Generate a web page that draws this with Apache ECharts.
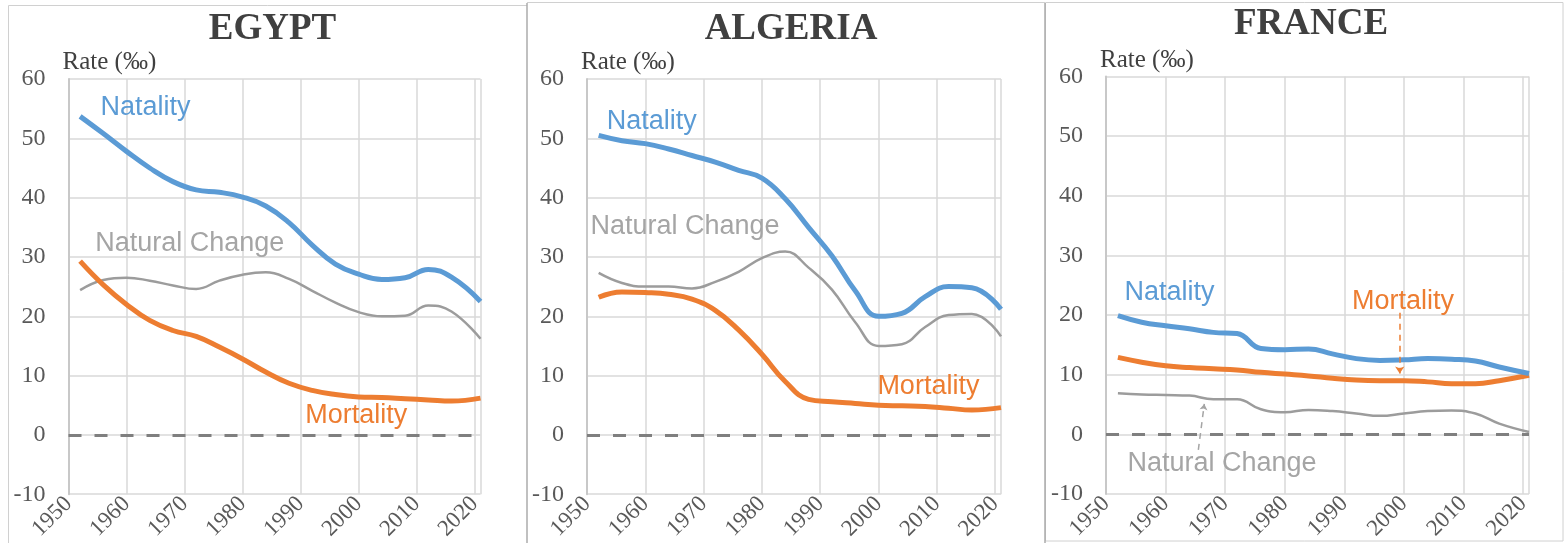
<!DOCTYPE html>
<html>
<head>
<meta charset="utf-8">
<script src="https://cdn.jsdelivr.net/npm/echarts@6/dist/echarts.min.js"></script>
<style>
  html, body { margin: 0; padding: 0; background: #fff; }
  #root { width: 1566px; height: 543px; }
</style>
</head>
<body>
<div id="root"></div>
<script>
// data (rates per thousand)
const years = [1952, 1956, 1960, 1964, 1968, 1972, 1976, 1980, 1984, 1988, 1992, 1996, 2000, 2004, 2008, 2012, 2016, 2021];
const countries = ["EGYPT", "ALGERIA", "FRANCE"];

const egyptNatality  = [53.7, 50.8, 47.8, 45.0, 42.7, 41.3, 40.9, 40.1, 38.6, 35.8, 32.0, 28.8, 27.1, 26.2, 26.5, 27.9, 26.6, 22.5];
const egyptMortality = [29.3, 25.3, 22.0, 19.3, 17.6, 16.6, 14.8, 12.8, 10.6, 8.7, 7.5, 6.8, 6.4, 6.3, 6.1, 5.9, 5.7, 6.2];
const egyptNatural   = [24.4, 26.1, 26.5, 26.0, 25.2, 24.6, 26.0, 27.0, 27.4, 26.3, 24.3, 22.3, 20.7, 20.0, 20.1, 21.8, 20.8, 16.2];

const algeriaNatality  = [50.5, 49.6, 49.1, 48.2, 47.1, 46.0, 44.6, 43.3, 39.8, 35.0, 30.2, 24.3, 20.0, 20.5, 23.3, 25.0, 24.8, 21.2];
const algeriaMortality = [23.2, 24.1, 24.0, 23.7, 22.9, 21.0, 17.7, 13.6, 9.0, 6.0, 5.6, 5.3, 5.0, 4.9, 4.8, 4.5, 4.2, 4.6];
const algeriaNatural   = [27.3, 25.6, 25.0, 25.0, 24.7, 25.8, 27.5, 29.8, 30.9, 28.2, 24.5, 19.0, 15.0, 15.3, 18.2, 20.2, 20.4, 16.6];

const franceNatality  = [19.9, 18.8, 18.2, 17.7, 17.1, 16.9, 14.4, 14.2, 14.3, 13.5, 12.7, 12.4, 12.5, 12.7, 12.6, 12.3, 11.3, 10.2];
const franceMortality = [12.9, 12.1, 11.5, 11.2, 11.0, 10.8, 10.4, 10.1, 9.8, 9.4, 9.1, 9.0, 9.0, 8.8, 8.5, 8.5, 9.0, 9.9];
const franceNatural   = [6.9, 6.7, 6.6, 6.5, 5.9, 5.9, 4.2, 3.7, 4.1, 3.9, 3.5, 3.1, 3.5, 3.9, 4.0, 3.5, 1.8, 0.4];

// where the series names are written, [year, rate] of the label's left middle
const natalityLabelAt = [[1955.5, 55.2], [1953.4, 52.9], [1953.1, 23.8]];
const mortalityLabelAt = [[1990.8, 3.2], [1999.8, 8.2], [1991.3, 22.3]];
const naturalLabelAt = [[1954.6, 32.3], [1950.6, 35.2], [1953.6, -4.9]];

const BLUE = "#5B9BD5", ORANGE = "#ED7D31", GRAY = "#A5A5A5";
const serif = "Liberation Serif";
const sans = "Liberation Sans";

const grids = [
  { left: 68.5, top: 79, width: 412, height: 417.5 },
  { left: 587, top: 79, width: 414, height: 417.5 },
  { left: 1106, top: 76.5, width: 423, height: 417.5 }
];
const titleCenters = [267.5, 786, 1306];
const titleTops = [6, 6, 1];

const allData = [
  [egyptNatality, egyptMortality, egyptNatural],
  [algeriaNatality, algeriaMortality, algeriaNatural],
  [franceNatality, franceMortality, franceNatural]
];

function pairs(vals) {
  return years.map((y, i) => [y, vals[i]]);
}

function nameLabel(text, at, color) {
  return {
    symbol: "circle",
    symbolSize: 0,
    data: [{
      coord: at,
      itemStyle: { color: "transparent" },
      label: {
        show: true, formatter: text, position: "inside", align: "left", verticalAlign: "middle",
        color: color, fontFamily: sans, fontSize: 27
      }
    }],
    silent: true
  };
}

const series = [];
allData.forEach((d, gi) => {
  const natal = {
    type: "line", xAxisIndex: gi, yAxisIndex: gi, data: pairs(d[0]),
    smooth: 0.45, showSymbol: false, z: 4,
    lineStyle: { color: BLUE, width: 5 },
    markPoint: nameLabel("Natality", natalityLabelAt[gi], BLUE),
    markLine: {
      silent: true, symbol: "none", label: { show: false },
      lineStyle: { color: "#7F7F7F", width: 3, type: [13, 13] },
      data: [{ yAxis: 0 }]
    }
  };
  const mort = {
    type: "line", xAxisIndex: gi, yAxisIndex: gi, data: pairs(d[1]),
    smooth: 0.45, showSymbol: false, z: 4,
    lineStyle: { color: ORANGE, width: 5 },
    markPoint: nameLabel("Mortality", mortalityLabelAt[gi], ORANGE)
  };
  const nat = {
    type: "line", xAxisIndex: gi, yAxisIndex: gi, data: pairs(d[2]),
    smooth: 0.45, showSymbol: false, z: 3,
    lineStyle: { color: "#9C9C9C", width: 2.5 },
    markPoint: nameLabel("Natural Change", naturalLabelAt[gi], GRAY)
  };
  if (gi === 2) {
    // dashed pointers from the names to their curves
    mort.markLine = {
      silent: true, symbol: ["none", "arrow"], symbolSize: 7, label: { show: false },
      lineStyle: { color: ORANGE, width: 1.5, type: [6, 5] },
      data: [[{ coord: [1999.3, 20.4] }, { coord: [1999.3, 10.2] }]]
    };
    nat.markLine = {
      silent: true, symbol: ["none", "arrow"], symbolSize: 6, label: { show: false },
      lineStyle: { color: GRAY, width: 1.5, type: [6, 5] },
      data: [[{ coord: [1965.5, -2.6] }, { coord: [1966.5, 5.1] }]]
    };
  }
  series.push(nat, mort, natal);
});

const option = {
  animation: false,
  backgroundColor: "#fff",
  title: countries.map((c, i) => ({
    text: c, left: titleCenters[i], top: titleTops[i], textAlign: "center",
    textStyle: { fontFamily: serif, fontWeight: "bold", fontSize: 37, color: "#404040" }
  })),
  graphic: [
    { type: "polyline", shape: { points: [[8.5, 545], [8.5, 5.5], [527, 5.5]] }, style: { fill: "none", stroke: "#D0D0D0", lineWidth: 1 } },
    { type: "polyline", shape: { points: [[527, 2.5], [1045, 2.5]] }, style: { fill: "none", stroke: "#D0D0D0", lineWidth: 1 } },
    { type: "rect", shape: { x: 1045.5, y: 2.5, width: 517.5, height: 538.5 }, style: { fill: "none", stroke: "#D0D0D0", lineWidth: 1 } },
    { type: "line", shape: { x1: 527, y1: 3, x2: 527, y2: 545 }, style: { stroke: "#ABABAB", lineWidth: 1.5 } },
    { type: "line", shape: { x1: 1045, y1: 3, x2: 1045, y2: 545 }, style: { stroke: "#ABABAB", lineWidth: 1.5 } }
  ],
  grid: grids,
  xAxis: grids.map((g, i) => ({
    type: "value", gridIndex: i, min: 1950, max: 2021, interval: 10,
    axisLine: { show: false },
    axisTick: { show: false },
    splitLine: { show: true, lineStyle: { color: "#D9D9D9", width: 1.5 } },
    axisLabel: {
      rotate: 45, showMaxLabel: false, margin: 6,
      fontFamily: serif, fontSize: 23, color: "#595959",
      formatter: v => String(v)
    }
  })),
  yAxis: grids.map((g, i) => ({
    type: "value", gridIndex: i, min: -10, max: 60, interval: 10,
    name: "Rate (‰)", nameLocation: "end", nameGap: 4,
    nameTextStyle: { fontFamily: serif, fontSize: 25, color: "#404040", align: "left", padding: [0, 0, 0, -6] },
    axisLine: { show: true, lineStyle: { color: "#C8C8C8", width: 2 } },
    axisTick: { show: false },
    splitLine: { show: true, lineStyle: { color: "#D9D9D9", width: 1.5 } },
    axisLabel: { fontFamily: serif, fontSize: 24, color: "#595959", margin: 23 }
  })),
  series: series
};

const chart = echarts.init(document.getElementById("root"));
chart.setOption(option);
</script>
</body>
</html>
